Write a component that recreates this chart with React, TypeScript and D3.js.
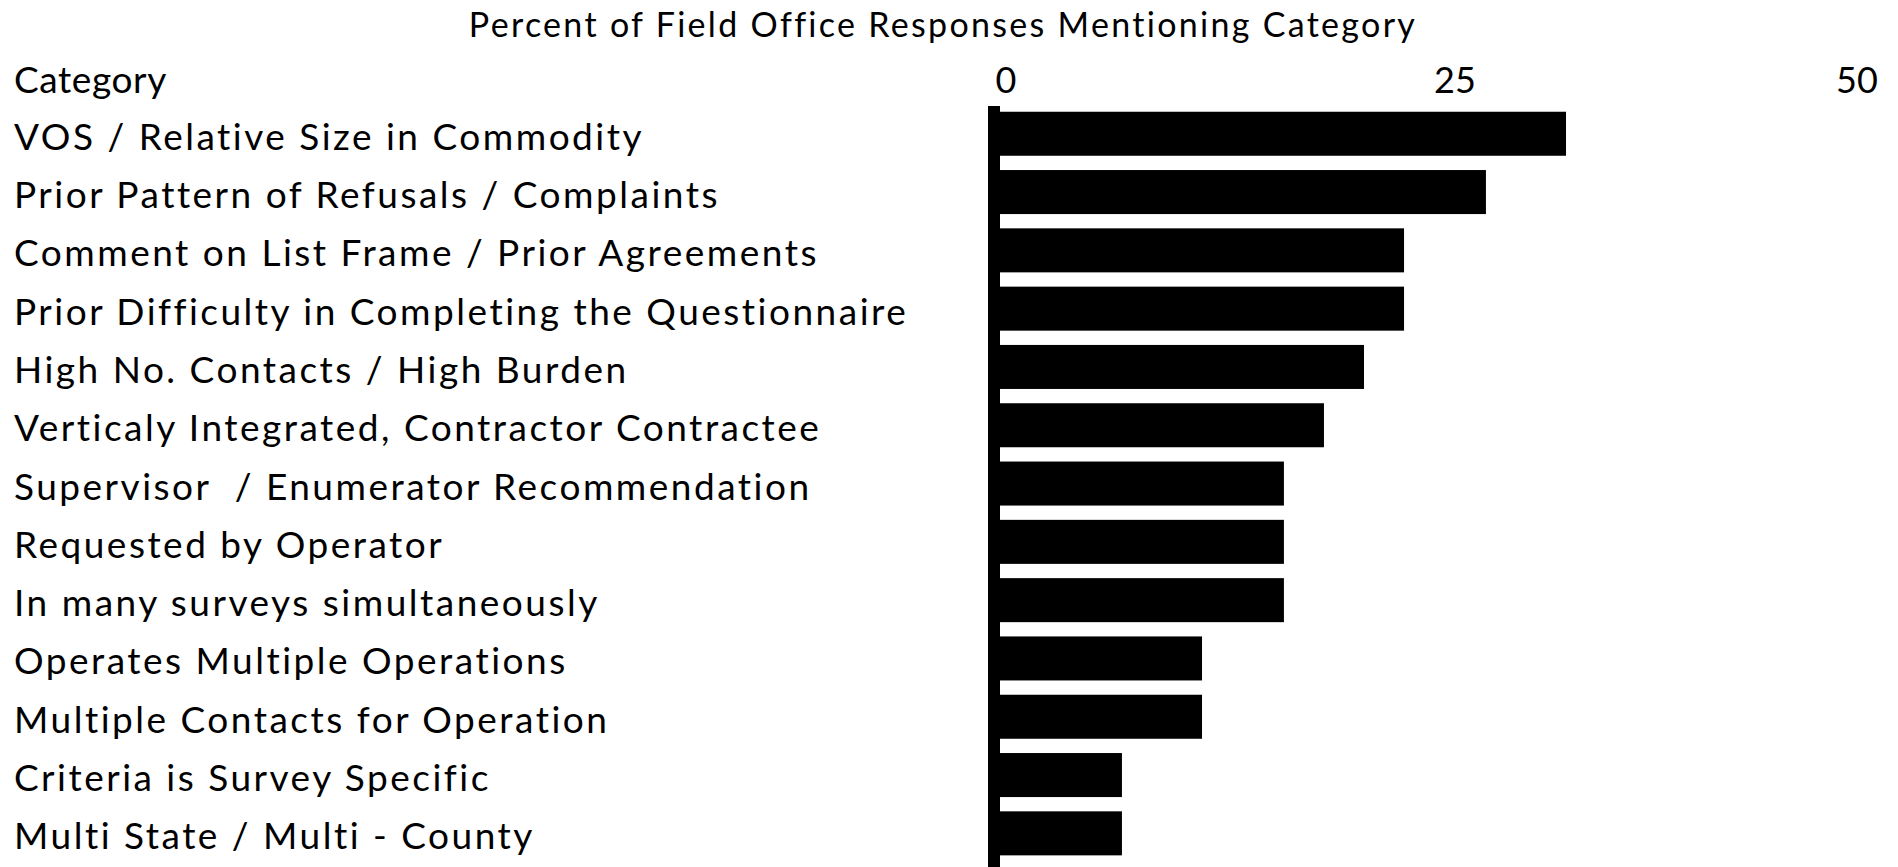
import React from 'react';
import * as d3 from 'd3';

const categories = [
  'VOS / Relative Size in Commodity',
  'Prior Pattern of Refusals / Complaints',
  'Comment on List Frame / Prior Agreements',
  'Prior Difficulty in Completing the Questionnaire',
  'High No. Contacts / High Burden',
  'Verticaly Integrated, Contractor Contractee',
  'Supervisor  / Enumerator Recommendation',
  'Requested by Operator',
  'In many surveys simultaneously',
  'Operates Multiple Operations',
  'Multiple Contacts for Operation',
  'Criteria is Survey Specific',
  'Multi State / Multi - County',
];
const percents = [31.1, 26.7, 22.2, 22.2, 20.0, 17.8, 15.6, 15.6, 15.6, 11.1, 11.1, 6.7, 6.7];
const tickValues = [0, 25, 50];
const title = 'Percent of Field Office Responses Mentioning Category';
const headerLabel = 'Category';

const W = 1898;
const H = 867;
const FONT = 'Lato, "Open Sans", sans-serif';

const App = () => {
  document.body.style.margin = '0';

  const x = d3.scaleLinear().domain([0, 50]).range([1000, 1910]);
  const y = d3.scaleBand<string>()
    .domain(categories)
    .range([104.6, 862.5])
    .paddingInner(0.245)
    .paddingOuter(0.1225);

  const tickX = (v: number) => {
    let pos = Math.max(x(v), x(0) + 6);
    if (pos > W - 41) pos = W - 41; // last label pulled inside the frame
    return pos;
  };

  return (
    <svg width={W} height={H} style={{ display: 'block', background: '#fff' }}>
      <text x={943} y={37} textAnchor="middle" fontFamily={FONT} fontSize={34} letterSpacing={2.3} fill="#000">
        {title}
      </text>
      <text x={14} y={93} fontFamily={FONT} fontSize={37} letterSpacing={0.6} fill="#000">
        {headerLabel}
      </text>
      {tickValues.map(v => (
        <text key={v} x={tickX(v)} y={93} textAnchor="middle" fontFamily={FONT} fontSize={36} fill="#000">
          {v}
        </text>
      ))}

      {categories.map((c, i) => (
        <g key={c}>
          <text x={14} y={(y(c) ?? 0) + y.bandwidth() / 2 + 16} fontFamily={FONT} fontSize={37}
            letterSpacing={2.5} fill="#000" style={{ whiteSpace: 'pre' }}>
            {c}
          </text>
          <rect x={x(0)} y={y(c)} width={x(percents[i]) - x(0)} height={y.bandwidth()} fill="#000" />
        </g>
      ))}

      {/* vertical axis line */}
      <rect x={x(0) - 12} y={106} width={12} height={H - 106} fill="#000" />
    </svg>
  );
};

export default App;
